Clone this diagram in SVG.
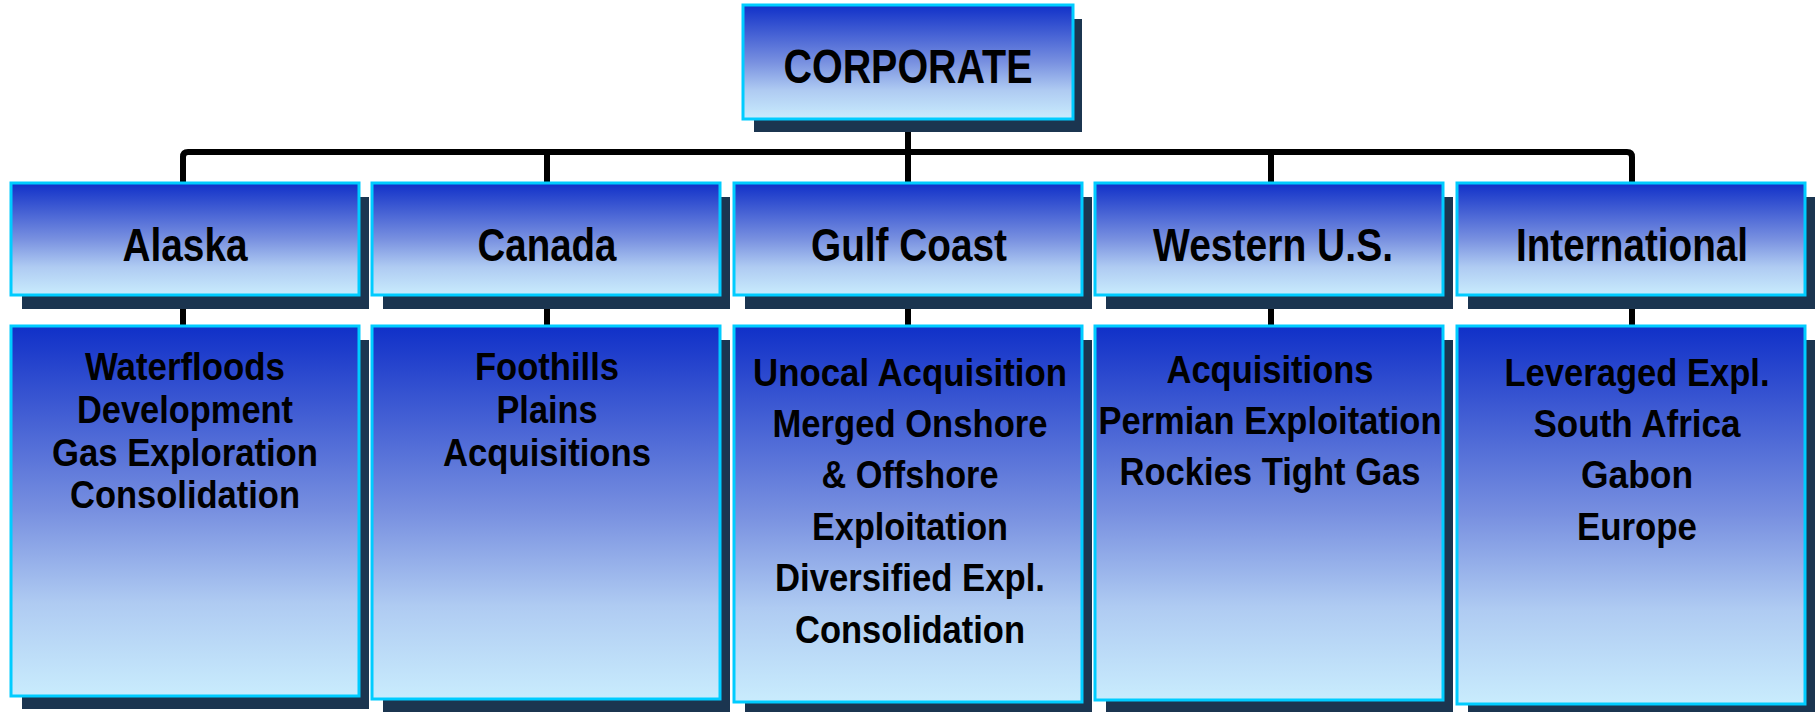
<svg xmlns="http://www.w3.org/2000/svg" width="1820" height="712" viewBox="0 0 1820 712">
<defs>
<linearGradient id="g" x1="0" y1="0" x2="0" y2="1">
<stop offset="0" stop-color="#1030C8"/>
<stop offset="0.5" stop-color="#7890E0"/>
<stop offset="0.75" stop-color="#AFCBF2"/>
<stop offset="1" stop-color="#C9ECFD"/>
</linearGradient>
</defs>
<style>
.shadow{fill:#1B3550}
.box{fill:url(#g);stroke:#00CCFF;stroke-width:3}
.t{font-family:"Liberation Sans",Arial,sans-serif;font-weight:bold;fill:#000;text-anchor:middle}
.h{font-size:47px}
.b{font-size:39px}
.conn{fill:none;stroke:#000;stroke-width:6;stroke-linejoin:round}
</style>
<rect width="1820" height="712" fill="#FFFFFF"/>
<g id="connectors">
<path class="conn" d="M183,183 V157 Q183,152 188,152 H1627 Q1632,152 1632,157 V183"/>
<path class="conn" d="M908,119 V152"/>
<path class="conn" d="M547,152 V183"/>
<path class="conn" d="M908,152 V183"/>
<path class="conn" d="M1271,152 V183"/>
<path class="conn" d="M183,295 V326"/>
<path class="conn" d="M547,295 V326"/>
<path class="conn" d="M908,295 V326"/>
<path class="conn" d="M1271,295 V326"/>
<path class="conn" d="M1632,295 V326"/>
</g>
<g id="corporate">
<rect class="shadow" x="754" y="19" width="328" height="113"/>
<rect class="box" x="743" y="5" width="330" height="114"/>
<text class="t" x="908" y="83" font-size="48" textLength="249" lengthAdjust="spacingAndGlyphs">CORPORATE</text>
</g>
<g id="alaska">
<rect class="shadow" x="22" y="197" width="347" height="112"/>
<rect class="box" x="11" y="183" width="348" height="112"/>
<text class="t h" x="185" y="261" textLength="125" lengthAdjust="spacingAndGlyphs">Alaska</text>
</g>
<g id="canada">
<rect class="shadow" x="383" y="197" width="347" height="112"/>
<rect class="box" x="372" y="183" width="348" height="112"/>
<text class="t h" x="547" y="261" textLength="139" lengthAdjust="spacingAndGlyphs">Canada</text>
</g>
<g id="gulf-coast">
<rect class="shadow" x="745" y="197" width="347" height="112"/>
<rect class="box" x="734" y="183" width="348" height="112"/>
<text class="t h" x="909" y="261" textLength="196" lengthAdjust="spacingAndGlyphs">Gulf Coast</text>
</g>
<g id="western-us">
<rect class="shadow" x="1106" y="197" width="347" height="112"/>
<rect class="box" x="1095" y="183" width="348" height="112"/>
<text class="t h" x="1273" y="261" textLength="240" lengthAdjust="spacingAndGlyphs">Western U.S.</text>
</g>
<g id="international">
<rect class="shadow" x="1468" y="197" width="347" height="112"/>
<rect class="box" x="1457" y="183" width="348" height="112"/>
<text class="t h" x="1632" y="261" textLength="232" lengthAdjust="spacingAndGlyphs">International</text>
</g>
<g id="alaska-detail">
<rect class="shadow" x="22" y="340" width="347" height="369"/>
<rect class="box" x="11" y="326" width="348" height="370"/>
<text class="t b" x="185" y="380" textLength="200" lengthAdjust="spacingAndGlyphs">Waterfloods</text>
<text class="t b" x="185" y="423" textLength="216" lengthAdjust="spacingAndGlyphs">Development</text>
<text class="t b" x="185" y="466" textLength="266" lengthAdjust="spacingAndGlyphs">Gas Exploration</text>
<text class="t b" x="185" y="508" textLength="230" lengthAdjust="spacingAndGlyphs">Consolidation</text>
</g>
<g id="canada-detail">
<rect class="shadow" x="383" y="340" width="347" height="372"/>
<rect class="box" x="372" y="326" width="348" height="373"/>
<text class="t b" x="547" y="380" textLength="144" lengthAdjust="spacingAndGlyphs">Foothills</text>
<text class="t b" x="547" y="423" textLength="101" lengthAdjust="spacingAndGlyphs">Plains</text>
<text class="t b" x="547" y="466" textLength="208" lengthAdjust="spacingAndGlyphs">Acquisitions</text>
</g>
<g id="gulf-coast-detail">
<rect class="shadow" x="745" y="340" width="347" height="376"/>
<rect class="box" x="734" y="326" width="348" height="376"/>
<text class="t b" x="910" y="386" textLength="314" lengthAdjust="spacingAndGlyphs">Unocal Acquisition</text>
<text class="t b" x="910" y="437" textLength="275" lengthAdjust="spacingAndGlyphs">Merged Onshore</text>
<text class="t b" x="910" y="488" textLength="177" lengthAdjust="spacingAndGlyphs">&amp; Offshore</text>
<text class="t b" x="910" y="540" textLength="196" lengthAdjust="spacingAndGlyphs">Exploitation</text>
<text class="t b" x="910" y="591" textLength="270" lengthAdjust="spacingAndGlyphs">Diversified Expl.</text>
<text class="t b" x="910" y="643" textLength="230" lengthAdjust="spacingAndGlyphs">Consolidation</text>
</g>
<g id="western-us-detail">
<rect class="shadow" x="1106" y="340" width="347" height="373"/>
<rect class="box" x="1095" y="326" width="348" height="374"/>
<text class="t b" x="1270" y="383" textLength="207" lengthAdjust="spacingAndGlyphs">Acquisitions</text>
<text class="t b" x="1270" y="434" textLength="343" lengthAdjust="spacingAndGlyphs">Permian Exploitation</text>
<text class="t b" x="1270" y="485" textLength="301" lengthAdjust="spacingAndGlyphs">Rockies Tight Gas</text>
</g>
<g id="international-detail">
<rect class="shadow" x="1468" y="340" width="347" height="377"/>
<rect class="box" x="1457" y="326" width="348" height="378"/>
<text class="t b" x="1637" y="386" textLength="265" lengthAdjust="spacingAndGlyphs">Leveraged Expl.</text>
<text class="t b" x="1637" y="437" textLength="207" lengthAdjust="spacingAndGlyphs">South Africa</text>
<text class="t b" x="1637" y="488" textLength="112" lengthAdjust="spacingAndGlyphs">Gabon</text>
<text class="t b" x="1637" y="540" textLength="120" lengthAdjust="spacingAndGlyphs">Europe</text>
</g>
</svg>
